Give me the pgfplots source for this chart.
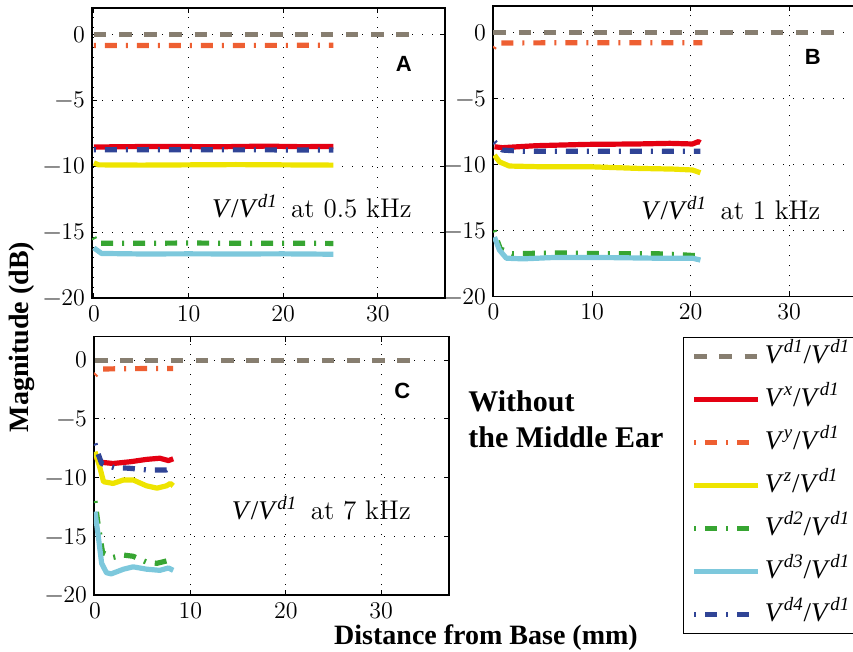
\documentclass[border=0pt]{standalone}
\usepackage{fontspec}
\setmainfont{Liberation Serif}
\newfontfamily\lmr{Latin Modern Roman}
\newfontfamily\arialfont{Liberation Sans}
\usepackage{pgfplots}
\pgfplotsset{compat=1.18}
\definecolor{cgray}{RGB}{135,126,112}
\definecolor{cred}{RGB}{228,0,18}
\definecolor{corange}{RGB}{238,95,50}
\definecolor{cyellow}{RGB}{238,228,0}
\definecolor{cgreen}{RGB}{55,165,50}
\definecolor{cblue}{RGB}{125,200,220}
\definecolor{cnavy}{RGB}{48,68,150}
\newcommand{\vr}[2]{\textit{V}\textsuperscript{\textit{#1}}/\textit{V}\textsuperscript{\textit{#2}}}
\newcommand{\vv}{\textit{V}/\textit{V}\textsuperscript{\textit{d1}}}
\newcommand{\tl}[1]{\mbox{\lmr #1}}
\pgfplotsset{
  panel/.style={
    scale only axis, ymin=-20, ymax=2,
    xtick={0,10,20,30}, xticklabels={\tl{0},\tl{10},\tl{20},\tl{30}},
    ytick={-20,-15,-10,-5,0},
    yticklabels={\tl{−20},\tl{−15},\tl{−10},\tl{−5},\tl{0}},
    grid=major, grid style={black, line width=0.5pt, dash pattern=on 0.5pt off 4.5pt},
    axis line style={black, line width=0.6pt},
    tick align=inside, major tick length=2.5pt, tick style={black, line width=0.5pt},
    tick label style={font=\lmr\fontsize{12}{14}\selectfont},
    every axis plot/.append style={line width=2.6pt, line join=round},
  },
  sd1/.style={color=cgray, dash pattern=on 6.3pt off 6.3pt},
  sx/.style={color=cred},
  sy/.style={color=corange, dash pattern=on 1pt off 4.5pt on 6pt off 4.5pt},
  sz/.style={color=cyellow},
  sd2/.style={color=cgreen, dash pattern=on 1pt off 4.5pt on 6pt off 4.5pt},
  sd3/.style={color=cblue},
  sd4/.style={color=cnavy, dash pattern=on 1pt off 4.5pt on 6pt off 4.5pt},
}
\tikzset{
  tag/.style={font=\arialfont\bfseries\fontsize{11}{13}\selectfont},
  note/.style={font=\fontsize{13.5}{16}\selectfont, anchor=base west},
}
\begin{document}
\begin{tikzpicture}
\useasboundingbox (0,0) rectangle (426.5pt,-326pt);

% panel A : 0.5 kHz
\begin{axis}[panel, at={(46pt,-149pt)}, anchor=south west,
  width=176.5pt, height=145pt, xmin=-0.2, xmax=37.1]
\addplot[sd1] coordinates {(0,0) (34,0)};
\addplot[sx] coordinates {(0,-8.55) (3,-8.52) (8,-8.5) (13,-8.53) (18,-8.48) (22,-8.52) (25.3,-8.5)};
\addplot[sy] coordinates {(0,-0.85) (25.3,-0.83)};
\addplot[sz] coordinates {(0,-9.75) (0.5,-9.9) (5,-9.92) (10,-9.9) (15,-9.88) (20,-9.9) (25.3,-9.92)};
\addplot[sd2] coordinates {(0,-15.4) (0.3,-15.85) (5,-15.85) (10,-15.83) (15,-15.85) (20,-15.84) (25.3,-15.86)};
\addplot[sd3] coordinates {(0,-16.2) (0.8,-16.62) (5,-16.66) (10,-16.65) (15,-16.66) (20,-16.65) (25.3,-16.68)};
\addplot[sd4] coordinates {(0,-8.75) (25.3,-8.77)};
\node[tag] at (axis cs:32.75,-2.25) {A};
\node[note] at (axis cs:11.75,-13.9) {\vv{}\ \ {\lmr at 0.5 kHz}};
\end{axis}

% panel B : 1 kHz
\begin{axis}[panel, at={(246.5pt,-148.25pt)}, anchor=south west,
  width=183pt, height=145.25pt, xmin=-0.05, xmax=37.1]
\addplot[sd1] coordinates {(0,0) (35,0)};
\addplot[sx] coordinates {(0.1,-8.66) (0.9,-8.73) (4.3,-8.58) (9.4,-8.48) (14.5,-8.45) (17.9,-8.4) (20.2,-8.45) (20.8,-8.27) (21,-8.35)};
\addplot[sy] coordinates {(0,-1.2) (0.3,-0.8) (10,-0.78) (21.2,-0.78)};
\addplot[sz] coordinates {(0.1,-9.29) (0.6,-9.8) (1.6,-10.12) (4.6,-10.17) (9.7,-10.17) (14.7,-10.3) (18.2,-10.35) (20.2,-10.42) (21,-10.63)};
\addplot[sd2] coordinates {(0.05,-15.0) (0.4,-15.8) (0.7,-16.4) (1.9,-16.76) (6.3,-16.7) (11.4,-16.76) (16.5,-16.76) (18.9,-16.83) (21,-16.93)};
\addplot[sd3] coordinates {(0.1,-15.5) (0.6,-16.48) (1.3,-17.1) (3,-17.15) (6.3,-17.04) (11.4,-17.05) (16.5,-17.1) (20.2,-17.1) (21,-17.24)};
\addplot[sd4] coordinates {(0.1,-8.28) (0.9,-8.91) (3,-9.0) (10,-9.0) (21,-9.0)};
\node[tag] at (axis cs:32.4,-1.83) {B};
\node[note] at (axis cs:14.3,-14.2) {\vv{}\ \ {\lmr at 1 kHz}};
\end{axis}

% panel C : 7 kHz
\begin{axis}[panel, at={(47pt,-297.5pt)}, anchor=south west,
  width=177.5pt, height=129.15pt, xmin=-0.1, xmax=37.1,
  legend style={at={(1.659,1.0)}, anchor=north west, draw=black, line width=0.6pt,
    font=\fontsize{13.5}{15}\selectfont, inner xsep=4pt, inner ysep=3pt, row sep=8.5pt,
    nodes={inner ysep=0pt, text height=10pt, text depth=3pt},
    /tikz/every even column/.append style={column sep=4pt}},
  legend cell align=left,
  legend image code/.code={\draw[#1] (0pt,0pt) -- (32pt,0pt);}]
\addplot[sd1] coordinates {(0,0) (34,0)};
\addlegendentry{\vr{d1}{d1}}
\addplot[sx] coordinates {(0,-8.2) (0.7,-8.7) (1.9,-8.8) (3.7,-8.65) (5.4,-8.45) (6.8,-8.35) (7.7,-8.55) (8.2,-8.4)};
\addlegendentry{\vr{x}{d1}}
\addplot[sy] coordinates {(0,-1.3) (0.6,-0.75) (4,-0.72) (8.2,-0.7)};
\addlegendentry{\vr{y}{d1}}
\addplot[sz] coordinates {(0,-7.8) (0.5,-9.1) (0.9,-10.35) (1.9,-10.5) (3.0,-10.2) (4.0,-10.2) (5.4,-10.7) (6.5,-10.9) (7.5,-10.7) (7.9,-10.5) (8.2,-10.7)};
\addlegendentry{\vr{z}{d1}}
\addplot[sd2] coordinates {(0,-12.0) (0.3,-13.8) (0.8,-16.4) (1.9,-16.8) (3,-16.6) (4,-16.7) (5.4,-17.2) (6.5,-17.3) (7.5,-17.1) (8.2,-17.15)};
\addlegendentry{\vr{d2}{d1}}
\addplot[sd3] coordinates {(0,-12.9) (0.35,-15.0) (0.7,-17.3) (1.2,-18.1) (1.7,-18.2) (3.0,-17.8) (4.0,-17.6) (5.4,-17.8) (6.8,-17.9) (7.7,-17.7) (8.2,-17.9)};
\addlegendentry{\vr{d3}{d1}}
\addplot[sd4] coordinates {(0,-7.1) (0.3,-7.9) (0.7,-8.8) (2,-9.15) (3.5,-9.2) (5.5,-9.35) (7.5,-9.35) (8.2,-9.0)};
\addlegendentry{\vr{d4}{d1}}
\node[tag] at (axis cs:32.2,-2.58) {C};
\node[note] at (axis cs:13.6,-13.6) {\vv{}\ \ {\lmr at 7 kHz}};
\end{axis}

\node[rotate=90, font=\bfseries\fontsize{14}{16}\selectfont] at (11pt,-168.5pt) {Magnitude (dB)};
\node[anchor=base, font=\bfseries\fontsize{14}{16}\selectfont] at (243pt,-322.5pt) {Distance from Base (mm)};
\node[anchor=base west, align=left, inner sep=0pt, font=\bfseries\fontsize{15}{18}\selectfont] at (234pt,-224pt) {Without\\the Middle Ear};
\end{tikzpicture}
\end{document}
